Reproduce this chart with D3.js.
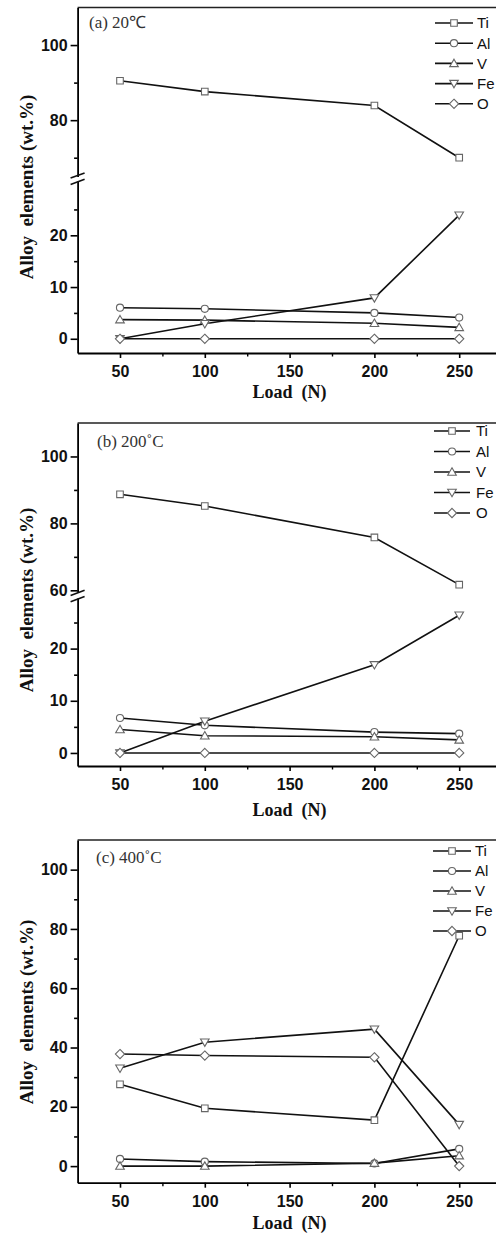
<!DOCTYPE html>
<html>
<head>
<meta charset="utf-8">
<script src="https://cdn.jsdelivr.net/npm/d3@7"></script>
<style>
  body { margin: 0; background: #fff; }
  .tick text { font-family: 'Liberation Sans', Arial, sans-serif; font-weight: bold; font-size: 16px; fill: #111; }
</style>
</head>
<body>
<div id="chart"></div>
<script>
var loads = [50, 100, 200, 250];
var elements = ['Ti', 'Al', 'V', 'Fe', 'O'];
var xTicks = [50, 100, 150, 200, 250];
var xMinor = [75, 125, 175, 225];

// (a) 20 C
var ti20 = [90.5, 87.6, 83.9, 70.0];
var al20 = [6.0, 5.8, 5.0, 4.1];
var v20 = [3.7, 3.6, 3.0, 2.2];
var fe20 = [0, 2.9, 7.9, 23.9];
var o20 = [0, 0, 0, 0];

// (b) 200 C
var ti200 = [88.7, 85.2, 75.8, 61.7];
var al200 = [6.7, 5.3, 4.0, 3.7];
var v200 = [4.5, 3.3, 3.1, 2.5];
var fe200 = [0, 6.1, 16.9, 26.4];
var o200 = [0, 0, 0, 0];

// (c) 400 C
var ti400 = [27.6, 19.5, 15.5, 77.7];
var al400 = [2.4, 1.5, 0.9, 5.8];
var v400 = [0, 0, 1.0, 3.5];
var fe400 = [33.0, 41.8, 46.2, 14.0];
var o400 = [37.8, 37.3, 36.7, 0];

var yTicksA = [0, 10, 20, 80, 100];
var yMinorA = [5, 15, 25, 70, 90];
var yTicksB = [0, 10, 20, 60, 80, 100];
var yMinorB = [5, 15, 25, 70, 90];
var yTicksC = [0, 20, 40, 60, 80, 100];
var yMinorC = [10, 30, 50, 70, 90];

var W = 496, H = 1234;
var svg = d3.select('#chart').append('svg')
  .attr('width', W)
  .attr('height', H);

var x = d3.scaleLinear().domain([25, 275]).range([77.6, 501.6]);

var panels = [
  {
    label: '(a) 20\u2103', labelX: 89, labelY: 28,
    series: [ti20, al20, v20, fe20, o20],
    ticks: yTicksA, minor: yMinorA,
    segs: [
      {domain: [65, 110], range: [176.5, 7.5]},
      {domain: [-2.75, 30.5], range: [353, 181]}
    ],
    breakY: 178.7,
    titleY: 187, xTitleY: 398,
    legY: 23, legStep: 20.2, legX0: 435, legX1: 473, legTx: 477
  },
  {
    label: '(b) 200\u02DAC', labelX: 97, labelY: 447,
    series: [ti200, al200, v200, fe200, o200],
    ticks: yTicksB, minor: yMinorB,
    segs: [
      {domain: [59.5, 110], range: [592, 423]},
      {domain: [-2.5, 29.7], range: [766, 598]}
    ],
    breakY: 596,
    titleY: 600, xTitleY: 816,
    legY: 431, legStep: 20.5, legX0: 434, legX1: 470, legTx: 476
  },
  {
    label: '(c) 400\u02DAC', labelX: 96, labelY: 863,
    series: [ti400, al400, v400, fe400, o400],
    ticks: yTicksC, minor: yMinorC,
    segs: [
      {domain: [-5.6, 110], range: [1182.7, 840]}
    ],
    breakY: null,
    titleY: 1012, xTitleY: 1229,
    legY: 851, legStep: 20, legX0: 433, legX1: 471, legTx: 475
  }
];

function markerPath(el) {
  if (el === 'Ti') return 'M-3.3,-3.3H3.3V3.3H-3.3Z';
  if (el === 'Al') return d3.symbol(d3.symbolCircle, 40)();
  if (el === 'V') return 'M0,-4.2L4.3,3.2H-4.3Z';
  if (el === 'Fe') return 'M0,4.2L4.3,-3.2H-4.3Z';
  return 'M0,-4.6L4.6,0L0,4.6L-4.6,0Z';
}

function drawMarker(g, el, px, py) {
  g.append('path')
    .attr('d', markerPath(el))
    .attr('transform', 'translate(' + px + ',' + py + ')')
    .attr('fill', '#fff')
    .attr('stroke', '#666')
    .attr('stroke-width', 1.1);
}

panels.forEach(function (p) {
  var g = svg.append('g');
  var scales = p.segs.map(function (s) {
    return d3.scaleLinear().domain(s.domain).range(s.range);
  });
  var yOf = function (v) {
    for (var i = 0; i < scales.length; i++) {
      if (v >= scales[i].domain()[0]) return scales[i](v);
    }
    return scales[scales.length - 1](v);
  };
  var top = p.segs[0].range[1];
  var bottom = p.segs[p.segs.length - 1].range[0];

  // top frame
  g.append('line')
    .attr('x1', x(25)).attr('x2', W)
    .attr('y1', top).attr('y2', top)
    .attr('stroke', '#222').attr('stroke-width', 1.4);

  // y axis segments
  scales.forEach(function (sc) {
    var d = sc.domain();
    var inside = function (t) { return t >= d[0] && t <= d[1]; };
    var ax = g.append('g')
      .attr('transform', 'translate(' + x(25) + ',0)')
      .call(d3.axisLeft(sc).tickValues(p.ticks.filter(inside))
        .tickSize(7).tickSizeOuter(0).tickPadding(3).tickFormat(d3.format('d')));
    ax.select('.domain').attr('stroke-width', 1.8);
    ax.selectAll('.tick line').attr('stroke-width', 1.6);
    var mn = g.append('g')
      .attr('transform', 'translate(' + x(25) + ',0)')
      .call(d3.axisLeft(sc).tickValues(p.minor.filter(inside))
        .tickSize(3.5).tickSizeOuter(0).tickFormat(''));
    mn.select('.domain').remove();
    mn.selectAll('.tick line').attr('stroke-width', 1.6);
  });

  // break marks
  if (p.breakY !== null) {
    [-3.2, 3.2].forEach(function (off) {
      g.append('line')
        .attr('x1', x(25) - 7).attr('x2', x(25) + 7)
        .attr('y1', p.breakY + off + 2.6).attr('y2', p.breakY + off - 2.6)
        .attr('stroke', '#111').attr('stroke-width', 1.6);
    });
  }

  // x axis
  var xa = g.append('g')
    .attr('transform', 'translate(0,' + bottom + ')')
    .call(d3.axisBottom(x).tickValues(xTicks).tickSize(5).tickSizeOuter(0).tickPadding(8));
  xa.select('.domain').attr('stroke-width', 1.8);
  xa.selectAll('.tick line').attr('stroke-width', 1.6);
  var xm = g.append('g')
    .attr('transform', 'translate(0,' + bottom + ')')
    .call(d3.axisBottom(x).tickValues(xMinor).tickSize(3.5).tickFormat(''));
  xm.select('.domain').remove();
  xm.selectAll('.tick line').attr('stroke-width', 1.4);

  // titles
  g.append('text')
    .attr('transform', 'translate(33,' + p.titleY + ') rotate(-90)')
    .attr('text-anchor', 'middle')
    .style('font-family', "'Liberation Serif', 'Times New Roman', serif")
    .style('font-weight', 'bold')
    .style('font-size', '19px')
    .style('white-space', 'pre')
    .attr('fill', '#111')
    .text('Alloy  elements (wt.%)');

  g.append('text')
    .attr('x', x(150)).attr('y', p.xTitleY)
    .attr('text-anchor', 'middle')
    .style('font-family', "'Liberation Serif', 'Times New Roman', serif")
    .style('font-weight', 'bold')
    .style('font-size', '18px')
    .style('white-space', 'pre')
    .attr('fill', '#111')
    .text('Load  (N)');

  g.append('text')
    .attr('x', p.labelX).attr('y', p.labelY)
    .style('font-family', "'Liberation Serif', 'Times New Roman', serif")
    .style('font-size', '17px')
    .attr('fill', '#333')
    .text(p.label);

  // data lines
  var line = d3.line()
    .x(function (d) { return x(d.load); })
    .y(function (d) { return yOf(d.value); });

  var data = p.series.map(function (vals, i) {
    return {
      id: elements[i],
      values: loads.map(function (l, j) { return {load: l, value: vals[j]}; })
    };
  });

  data.forEach(function (s) {
    g.append('path')
      .attr('d', line(s.values))
      .attr('fill', 'none')
      .attr('stroke', '#111')
      .attr('stroke-width', 1.6);
  });
  data.forEach(function (s) {
    s.values.forEach(function (d) {
      drawMarker(g, s.id, x(d.load), yOf(d.value));
    });
  });

  // legend
  elements.forEach(function (el, i) {
    var ly = p.legY + i * p.legStep;
    g.append('line')
      .attr('x1', p.legX0).attr('x2', p.legX1)
      .attr('y1', ly).attr('y2', ly)
      .attr('stroke', '#111').attr('stroke-width', 1.6);
    drawMarker(g, el, (p.legX0 + p.legX1) / 2, ly);
    g.append('text')
      .attr('x', p.legTx).attr('y', ly)
      .attr('dy', '0.36em')
      .style('font-family', "'Liberation Sans', Arial, sans-serif")
      .style('font-size', '15px')
      .attr('fill', '#111')
      .text(el);
  });
});
</script>
</body>
</html>
